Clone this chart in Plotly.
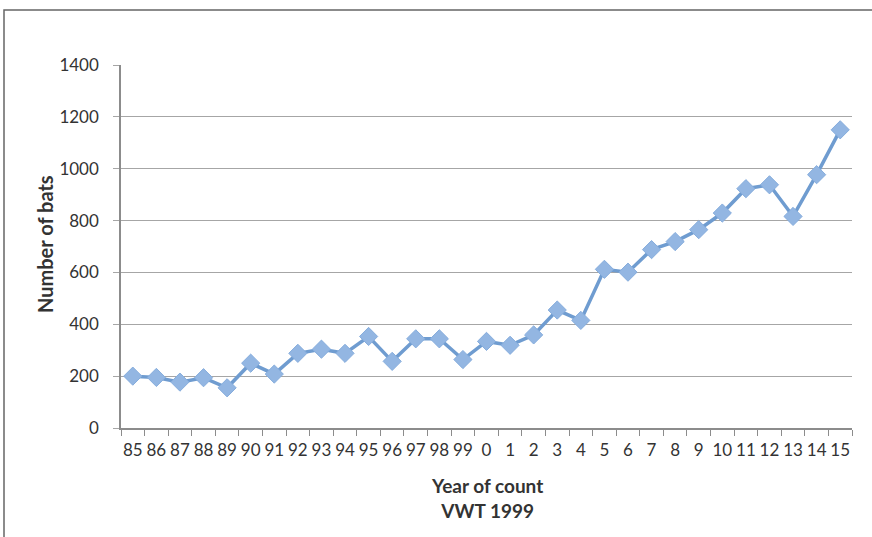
import plotly.graph_objects as go

years = ["85", "86", "87", "88", "89", "90", "91", "92", "93", "94", "95", "96", "97", "98", "99",
         "0", "1", "2", "3", "4", "5", "6", "7", "8", "9", "10", "11", "12", "13", "14", "15"]
bats = [200, 195, 177, 194, 155, 250, 208, 288, 304, 288, 353, 257, 344, 344, 264,
        334, 319, 359, 455, 415, 612, 601, 688, 719, 765, 829, 923, 938, 816, 977, 1150]
x_title = "Year of count<br>VWT 1999"
y_title = "Number of bats"

W, H = 872, 537
L, R, T, B = 121, 20, 65, 109
pw, ph = W - L - R, H - T - B

fig = go.Figure()
fig.add_trace(go.Scatter(
    x=years, y=bats, mode="lines+markers",
    line=dict(color="#6F9CD0", width=3.5),
    marker=dict(symbol="diamond", size=14, color="#93B6E2", line=dict(color="#86ADDD", width=1)),
    showlegend=False,
))

tick_font = dict(family="Lato, sans-serif", size=17, color="#333333")
xtitle_font = dict(family="Lato, sans-serif", size=19, color="#333333")
ytitle_font = dict(family="Lato, sans-serif", size=20, color="#333333")

fig.update_layout(
    width=W, height=H,
    margin=dict(l=L, r=R, t=T, b=B),
    paper_bgcolor="white", plot_bgcolor="white",
    font=dict(family="Lato, sans-serif", size=17, color="#333333"),
    xaxis=dict(
        type="category", tickson="boundaries", range=[-0.5, 30.5],
        automargin=False, tickangle=0,
        showgrid=False, showline=True, linecolor="#8c8c8c", linewidth=1.5,
        ticks="outside", ticklen=6, tickcolor="#8c8c8c",
        ticklabelstandoff=6,
        tickfont=tick_font,
    ),
    yaxis=dict(
        range=[0, 1400], dtick=200, showgrid=True, gridcolor="#a6a6a6", gridwidth=1.2,
        automargin=False,
        showline=True, linecolor="#8c8c8c", linewidth=1.5,
        ticks="outside", ticklen=6, tickcolor="#a6a6a6",
        ticklabelstandoff=11,
        zeroline=False,
        tickfont=tick_font,
    ),
    annotations=[
        dict(text="<b>" + x_title + "</b>", xref="paper", yref="paper",
             x=(487 - L) / pw, y=-(498 - (T + ph)) / ph, xanchor="center", yanchor="middle",
             showarrow=False, font=xtitle_font, align="center"),
        dict(text="<b>" + y_title + "</b>", xref="paper", yref="paper",
             x=(45 - L) / pw, y=((T + ph) - 244) / ph, xanchor="center", yanchor="middle",
             showarrow=False, font=ytitle_font, textangle=-90),
    ],
    shapes=[dict(
        type="rect", xref="paper", yref="paper",
        x0=(4 - L) / pw, x1=1.2, y0=-0.6, y1=1 + (T - 10) / ph,
        line=dict(color="#666666", width=1.5), fillcolor="rgba(0,0,0,0)", layer="below",
    )],
)

fig.write_html("out.html", config={"displayModeBar": False},
               post_script="document.body.style.margin='0';")
